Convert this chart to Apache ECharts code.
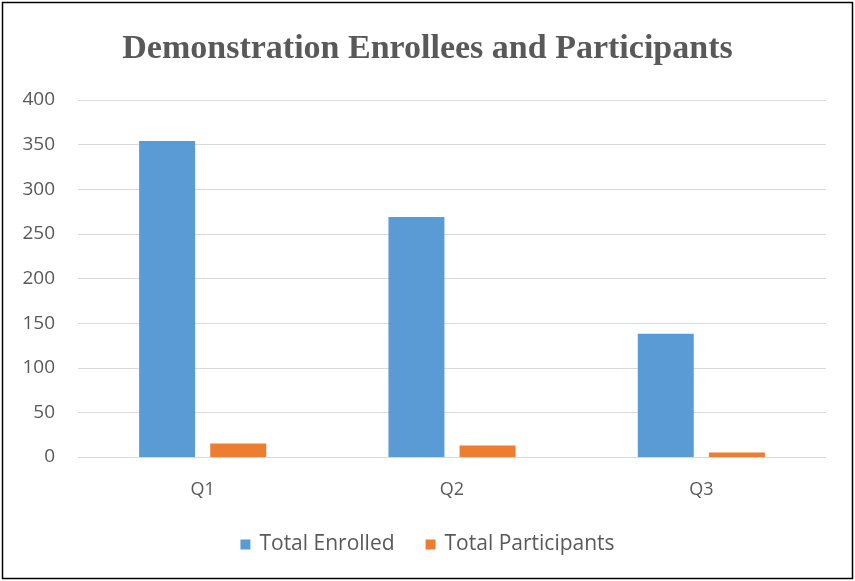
<!DOCTYPE html>
<html><head><meta charset="utf-8">
<script src="https://cdn.jsdelivr.net/npm/echarts@6/dist/echarts.min.js"></script>
<style>html,body{margin:0;padding:0;background:#fff}#c{width:855px;height:581px}</style>
</head><body><div id="c"></div>
<script>
const categories = ['Q1', 'Q2', 'Q3'];
const totalEnrolled = [354, 269, 138];
const totalParticipants = [15, 13, 5];
const yTicks = [0, 50, 100, 150, 200, 250, 300, 350, 400];

const chart = echarts.init(document.getElementById('c'));
chart.setOption({
  animation: false,
  backgroundColor: '#fff',
  title: {
    text: 'Demonstration Enrollees and Participants',
    left: 'center', top: 27,
    textStyle: { fontFamily: 'Liberation Serif', fontWeight: 'bold', fontSize: 34, color: '#595959' }
  },
  graphic: [{ type: 'rect', shape: { x: 2.5, y: 2.5, width: 850, height: 576 },
    style: { fill: 'none', stroke: '#000', lineWidth: 1.5 }, silent: true }],
  legend: {
    top: 529, left: 'center', itemWidth: 10, itemHeight: 10, itemGap: 31, icon: 'rect',
    textStyle: { fontFamily: 'Open Sans', fontSize: 21, color: '#595959', padding: [0, 0, 0, 4] },
    data: ['Total Enrolled', 'Total Participants']
  },
  grid: { left: 78, right: 29, top: 100, bottom: 124, containLabel: false },
  xAxis: {
    type: 'category', data: categories,
    axisLine: { lineStyle: { color: '#D9D9D9', width: 1 } },
    axisTick: { show: false },
    axisLabel: { fontFamily: 'Open Sans', fontSize: 18, color: '#595959', margin: 24 }
  },
  yAxis: {
    type: 'value', min: yTicks[0], max: yTicks[yTicks.length - 1], interval: 50,
    axisLine: { show: false }, axisTick: { show: false },
    splitLine: { lineStyle: { color: '#D9D9D9', width: 1 } },
    axisLabel: { fontFamily: 'Open Sans', fontSize: 19, color: '#595959', margin: 23 }
  },
  series: [
    { name: 'Total Enrolled', type: 'bar', data: totalEnrolled, barWidth: 56, barGap: '27%',
      itemStyle: { color: '#5B9BD5' } },
    { name: 'Total Participants', type: 'bar', data: totalParticipants, barWidth: 56,
      itemStyle: { color: '#ED7D31' } }
  ]
});
</script></body></html>
